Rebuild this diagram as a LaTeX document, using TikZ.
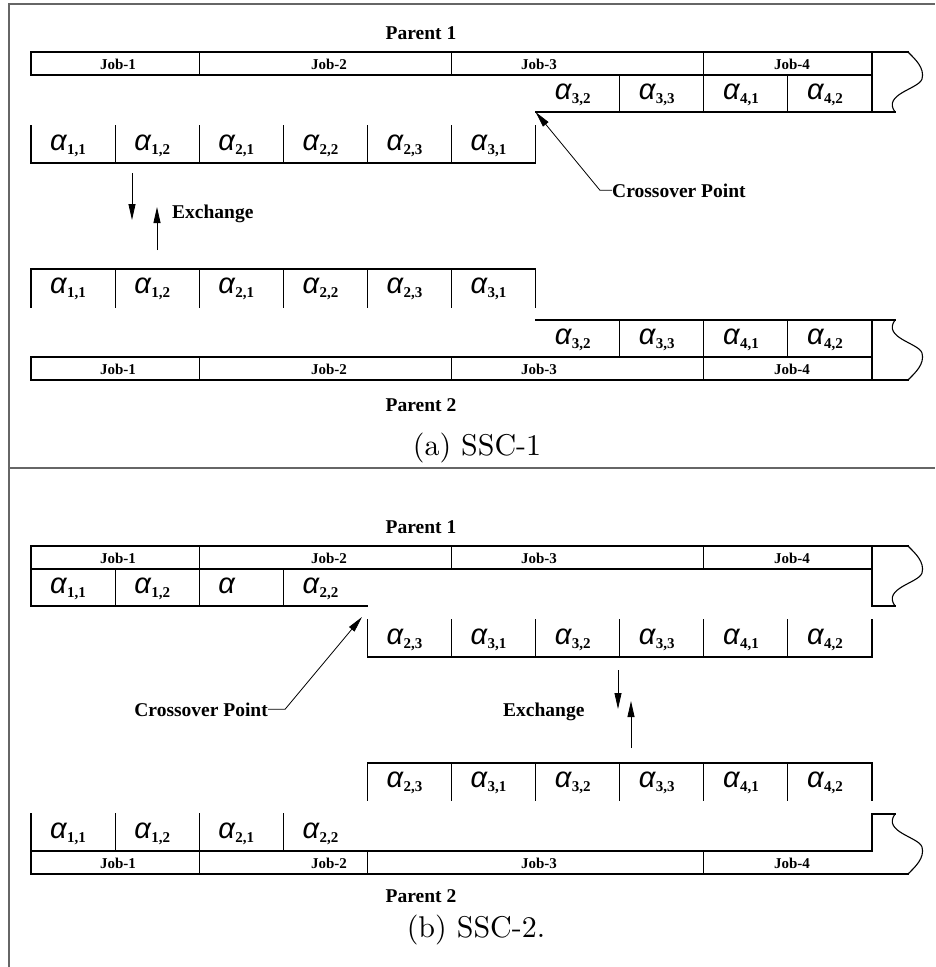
\documentclass[tikz,border=0pt]{standalone}
\usepackage{fontspec}
\usetikzlibrary{arrows.meta}
\newfontfamily\timesfont{Liberation Serif}
\newfontfamily\alfont{Liberation Sans}
\newfontfamily\capfamily{lmroman10-regular}[Extension=.otf]
\newcommand{\bigfont}{\timesfont\bfseries\fontsize{19.5}{22}\selectfont}
\newcommand{\jobfont}{\timesfont\bfseries\fontsize{15}{17}\selectfont}
\newcommand{\subfont}{\timesfont\bfseries\fontsize{15}{17}\selectfont}
\newcommand{\capfont}{\capfamily\fontsize{30}{34}\selectfont}
\newcommand{\gene}[1]{{\alfont\itshape\fontsize{29}{30}\selectfont α}\kern0.5pt\lower4pt\hbox{\subfont #1}}

\tikzset{
  cell/.style={line width=1.1pt, line cap=rect},
  frame/.style={draw=black!60, line width=1.4pt},
  genetxt/.style={anchor=base west, inner sep=0pt},
  jobtxt/.style={font=\jobfont, anchor=base, inner sep=0pt},
  bigtxt/.style={font=\bigfont, inner sep=0pt},
  captxt/.style={font=\capfont, anchor=base, inner sep=0pt},
  arr/.style={-{Triangle[length=16pt,width=7pt]}, line width=0.8pt},
  tornend/.pic={\draw[cell, line cap=butt] (0,0) .. controls (7,7) and (17,16) .. (14,27) .. controls (11,37) and (-26,42) .. (-13,60);}
}

\begin{document}
\begin{tikzpicture}[x=1pt, y=-1pt]
\useasboundingbox (0,0) rectangle (935,967);
% frame
\draw[frame] (9,967) -- (9,4) -- (935,4);
\draw[frame] (9,468) -- (935,468);

% ---------- (a) SSC-1 ----------
% parent 1
\node[bigtxt, anchor=base] (pa1) at (421,39) {Parent 1};
\draw[cell] (31,52) rectangle (872,75);
\foreach \i in {2,5,8} \draw[cell] ({31+84.1*\i},52) -- ({31+84.1*\i},75);
\foreach \x/\t [count=\k] in {118/Job-1, 329/Job-2, 539/Job-3, 792/Job-4}
  \node[jobtxt] (ja1-\k) at (\x,69) {\t};
\draw[cell] (872,52) -- (908,52);
\draw[cell] (872,52) -- (872,112);
\draw[cell] ({31+84.1*6},112) -- (895,112);
\foreach \i in {7,8,9} \draw[cell] ({31+84.1*\i},75) -- ({31+84.1*\i},112);
\pic at (908,52) {tornend};
\foreach \i/\s in {6/{3,2}, 7/{3,3}, 8/{4,1}, 9/{4,2}}
  \node[genetxt] (ga1-\i) at ({31+84.1*\i+19},99.5) {\gene{\s}};
% parent 1, cut part
\draw[cell] (31,163) -- ({31+84.1*6},163);
\foreach \i in {0,...,6} \draw[cell] ({31+84.1*\i},126) -- ({31+84.1*\i},163);
\foreach \i/\s in {0/{1,1}, 1/{1,2}, 2/{2,1}, 3/{2,2}, 4/{2,3}, 5/{3,1}}
  \node[genetxt] (gb1-\i) at ({31+84.1*\i+19},150.5) {\gene{\s}};

% crossover point
\node[bigtxt, anchor=base west] (cxa) at (612,197) {Crossover Point};
\coordinate (tipa) at ({31+84.1*6},112);
\draw[arr] (cxa.west) -- ++(-12,0) -- (tipa);

% exchange
\coordinate (dna-s) at (132,173);
\coordinate (dna-e) at (132,220);
\coordinate (upa-s) at (157,250);
\coordinate (upa-e) at (157,207);
\draw[arr] (dna-s) -- (dna-e);
\draw[arr] (upa-s) -- (upa-e);
\node[bigtxt, anchor=base west] (exa) at (172,218) {Exchange};

% parent 2, cut part
\draw[cell] (31,269) -- ({31+84.1*6},269);
\foreach \i in {0,...,6} \draw[cell] ({31+84.1*\i},269) -- ({31+84.1*\i},307);
\foreach \i/\s in {0/{1,1}, 1/{1,2}, 2/{2,1}, 3/{2,2}, 4/{2,3}, 5/{3,1}}
  \node[genetxt] (gb2-\i) at ({31+84.1*\i+19},293.5) {\gene{\s}};
% parent 2
\draw[cell] ({31+84.1*6},320) -- (895,320);
\foreach \i in {7,8,9} \draw[cell] ({31+84.1*\i},320) -- ({31+84.1*\i},357);
\draw[cell] (872,320) -- (872,380);
\foreach \i/\s in {6/{3,2}, 7/{3,3}, 8/{4,1}, 9/{4,2}}
  \node[genetxt] (ga2-\i) at ({31+84.1*\i+19},344.5) {\gene{\s}};
\draw[cell] (31,357) rectangle (872,380);
\draw[cell] (872,380) -- (908,380);
\foreach \i in {2,5,8} \draw[cell] ({31+84.1*\i},357) -- ({31+84.1*\i},380);
\foreach \x/\t [count=\k] in {118/Job-1, 329/Job-2, 539/Job-3, 792/Job-4}
  \node[jobtxt] (ja2-\k) at (\x,374) {\t};
\pic[yscale=-1] at (908,380) {tornend};
\node[bigtxt, anchor=base] (pa2) at (421,411) {Parent 2};

\node[captxt] (capa) at (477,455) {(a) SSC-1};

% ---------- (b) SSC-2 ----------
% parent 1
\node[bigtxt, anchor=base] (pb1) at (421,533) {Parent 1};
\draw[cell] (31,546) rectangle (872,569);
\foreach \i in {2,5,8} \draw[cell] ({31+84.1*\i},546) -- ({31+84.1*\i},569);
\foreach \x/\t [count=\k] in {118/Job-1, 329/Job-2, 539/Job-3, 792/Job-4}
  \node[jobtxt] (jb1-\k) at (\x,563) {\t};
\draw[cell] (872,546) -- (908,546);
\draw[cell] (872,546) -- (872,606) -- (895,606);
\pic at (908,546) {tornend};
\draw[cell] (31,606) -- ({31+84.1*4},606);
\foreach \i in {0,...,3} \draw[cell] ({31+84.1*\i},569) -- ({31+84.1*\i},606);
\foreach \i/\s in {0/{1,1}, 1/{1,2}, 2/{}, 3/{2,2}}
  \node[genetxt] (gc1-\i) at ({31+84.1*\i+19},593.5) {\gene{\s}};
% parent 1, cut part
\draw[cell] ({31+84.1*4},657) -- (872,657);
\foreach \i in {4,...,10} \draw[cell] ({31+84.1*\i},620) -- ({31+84.1*\i},657);
\foreach \i/\s in {4/{2,3}, 5/{3,1}, 6/{3,2}, 7/{3,3}, 8/{4,1}, 9/{4,2}}
  \node[genetxt] (gd1-\i) at ({31+84.1*\i+19},644.5) {\gene{\s}};

% crossover point
\node[bigtxt, anchor=base east] (cxb) at (268,716) {Crossover Point};
\coordinate (tipb) at (362,617);
\draw[arr] (cxb.east) -- ++(17,0) -- (tipb);

% exchange
\coordinate (dnb-s) at (618,670);
\coordinate (dnb-e) at (618,709);
\coordinate (upb-s) at (631,748);
\coordinate (upb-e) at (631,701);
\draw[arr] (dnb-s) -- (dnb-e);
\draw[arr] (upb-s) -- (upb-e);
\node[bigtxt, anchor=base west] (exb) at (503,716) {Exchange};

% parent 2, cut part
\draw[cell] ({31+84.1*4},763) -- (872,763);
\foreach \i in {4,...,10} \draw[cell] ({31+84.1*\i},763) -- ({31+84.1*\i},800);
\foreach \i/\s in {4/{2,3}, 5/{3,1}, 6/{3,2}, 7/{3,3}, 8/{4,1}, 9/{4,2}}
  \node[genetxt] (gd2-\i) at ({31+84.1*\i+19},787.5) {\gene{\s}};
% parent 2
\foreach \i in {0,...,3} \draw[cell] ({31+84.1*\i},814) -- ({31+84.1*\i},851);
\foreach \i/\s in {0/{1,1}, 1/{1,2}, 2/{2,1}, 3/{2,2}}
  \node[genetxt] (gc2-\i) at ({31+84.1*\i+19},838.5) {\gene{\s}};
\draw[cell] (872,814) -- (895,814);
\draw[cell] (872,814) -- (872,851) -- (31,851) -- (31,874) -- (908,874);
\foreach \i in {2,4,8} \draw[cell] ({31+84.1*\i},851) -- ({31+84.1*\i},874);
\foreach \x/\t [count=\k] in {118/Job-1, 329/Job-2, 539/Job-3, 792/Job-4}
  \node[jobtxt] (jb2-\k) at (\x,868) {\t};
\pic[yscale=-1] at (908,874) {tornend};
\node[bigtxt, anchor=base] (pb2) at (421,902) {Parent 2};

\node[captxt] (capb) at (476,937) {(b) SSC-2.};
\end{tikzpicture}
\end{document}
